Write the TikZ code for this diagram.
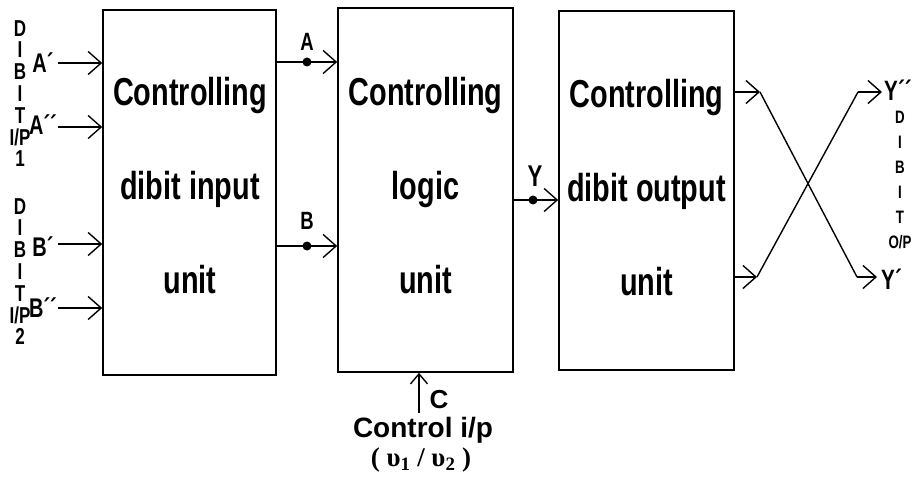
\documentclass[tikz,border=0pt]{standalone}
\usepackage{fontspec}
\setmainfont{Liberation Sans}
\newfontfamily\narrowsans{Liberation Sans}[FakeStretch=0.74]
\newfontfamily\serifface{Liberation Serif}
\usetikzlibrary{arrows.meta}

\begin{document}
\begin{tikzpicture}[
    x=1pt, y=-1pt,
    blk/.style={draw, line width=1.6pt, inner sep=0pt},
    blktxt/.style={anchor=north, align=center, inner sep=0pt, font=\narrowsans\bfseries\fontsize{39}{94}\selectfont},
    sig/.style={line width=1.4pt, -{Straight Barb[length=13pt, width=23pt, line width=1.4pt]}},
    ctlsig/.style={line width=1.4pt, -{Straight Barb[length=10pt, width=17pt, line width=1.4pt]}},
    wire/.style={line width=1.4pt},
    dot/.style={circle, fill=black, inner sep=0pt, minimum size=9pt},
    vlab/.style={align=center, inner sep=0pt, font=\narrowsans\bfseries\fontsize{23}{21.8}\selectfont},
    ilab/.style={inner sep=0pt, font=\narrowsans\bfseries\fontsize{27}{27}\selectfont},
]
    \useasboundingbox (0,0) rectangle (912,481);

    % the three units
    \node[blk, minimum width=173pt, minimum height=365pt] (inunit) at (189.5,192.5) {};
    \node[blk, minimum width=175pt, minimum height=364pt] (logunit) at (425.5,190) {};
    \node[blk, minimum width=175pt, minimum height=359pt] (outunit) at (646.5,190.5) {};
    \node[blktxt] (intxt) at (190,77) {Controlling\\dibit input\\unit};
    \node[blktxt] (logtxt) at (425.5,77) {Controlling\\logic\\unit};
    \node[blktxt] (outtxt) at (646.5,79) {Controlling\\dibit output\\unit};

    % dibit inputs
    \node[vlab, anchor=north] (dib1) at (20,20) {D\\I\\B\\I\\T\\I/P\\1};
    \node[vlab, anchor=north] (dib2) at (20,198) {D\\I\\B\\I\\T\\I/P\\2};
    \node[ilab] (la1) at (43,63) {A´};
    \node[ilab] (la2) at (43,125) {A´´};
    \node[ilab] (lb1) at (43,247) {B´};
    \node[ilab] (lb2) at (43,308) {B´´};
    \coordinate (ia1) at (58,63);
    \coordinate (ia2) at (58,127);
    \coordinate (ib1) at (58,244);
    \coordinate (ib2) at (58,308);
    \draw[sig] (ia1) -- (inunit.west |- ia1);
    \draw[sig] (ia2) -- (inunit.west |- ia2);
    \draw[sig] (ib1) -- (inunit.west |- ib1);
    \draw[sig] (ib2) -- (inunit.west |- ib2);

    % A, B and Y
    \node[dot] (dA) at (307,62) {};
    \node[dot] (dB) at (307,246) {};
    \node[dot] (dY) at (533,200) {};
    \draw[sig] (inunit.east |- dA) -- (logunit.west |- dA);
    \draw[sig] (inunit.east |- dB) -- (logunit.west |- dB);
    \draw[sig] (logunit.east |- dY) -- (outunit.west |- dY);
    \node[ilab, font=\narrowsans\bfseries\fontsize{25}{25}\selectfont] (lA) at (307,42) {A};
    \node[ilab, font=\narrowsans\bfseries\fontsize{25}{25}\selectfont] (lB) at (307,221) {B};
    \node[ilab, font=\narrowsans\bfseries\fontsize{30}{30}\selectfont] (lY) at (535,176) {Y};

    % control input
    \coordinate (ctl) at (419,413);
    \draw[ctlsig] (ctl) -- (ctl |- logunit.south);
    \node[ilab, font=\bfseries\fontsize{26}{26}\selectfont] (lC) at (439,400) {C};
    \node[inner sep=0pt, font=\bfseries\fontsize{28}{28}\selectfont] (ctltxt) at (423,430) {Control i/p};
    \node[inner sep=0pt, font=\serifface\bfseries\fontsize{27}{27}\selectfont] (ctlv) at (421,460) {( υ\textsubscript{1} / υ\textsubscript{2} )};

    % crossed outputs
    \coordinate (xa) at (760,92);
    \coordinate (xb) at (857,277);
    \coordinate (xc) at (877,277);
    \coordinate (xd) at (757,277);
    \coordinate (xe) at (858,92);
    \coordinate (xf) at (882,92);
    \draw[sig] (outunit.east |- xa) -- (xa);
    \draw[wire] (xa) -- (xb);
    \draw[sig] (xb) -- (xc);
    \draw[sig] (outunit.east |- xd) -- (xd);
    \draw[wire] (xd) -- (xe);
    \draw[sig] (xe) -- (xf);
    \node[ilab, anchor=west, font=\narrowsans\bfseries\fontsize{28}{28}\selectfont] (ly2) at (884,90) {Y´´};
    \node[ilab, anchor=west, font=\narrowsans\bfseries\fontsize{28}{28}\selectfont] (ly1) at (881,279) {Y´};
    \node[vlab, anchor=north, font=\narrowsans\bfseries\fontsize{18}{25}\selectfont] (dibo) at (900,111) {D\\I\\B\\I\\T\\O/P};
\end{tikzpicture}
\end{document}
